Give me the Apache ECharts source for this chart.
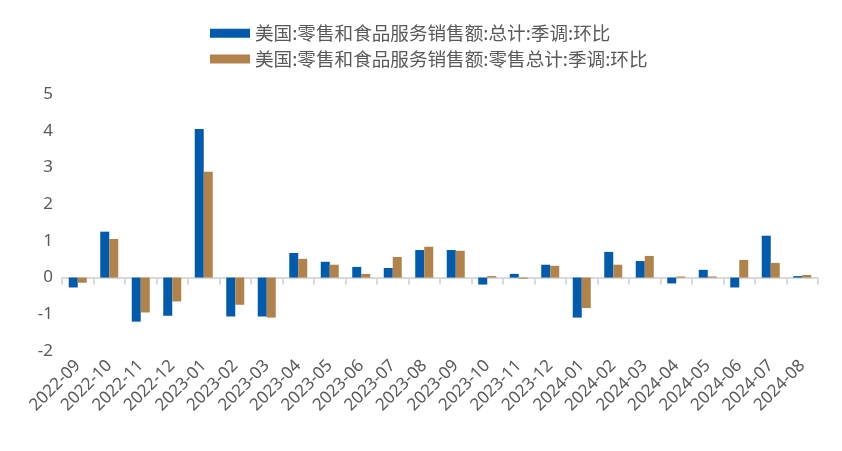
<!DOCTYPE html>
<html><head><meta charset="utf-8">
<script src="https://cdn.jsdelivr.net/npm/echarts@6/dist/echarts.min.js"></script>
<style>html,body{margin:0;padding:0;background:#fff}#c{width:842px;height:451px}</style>
</head><body><div id="c"></div>
<script>
const categories = ['2022-09','2022-10','2022-11','2022-12','2023-01','2023-02','2023-03','2023-04','2023-05','2023-06','2023-07','2023-08','2023-09','2023-10','2023-11','2023-12','2024-01','2024-02','2024-03','2024-04','2024-05','2024-06','2024-07','2024-08'];
const seriesTotal = [-0.27,1.25,-1.2,-1.04,4.05,-1.06,-1.06,0.67,0.43,0.29,0.26,0.75,0.75,-0.19,0.1,0.35,-1.09,0.7,0.45,-0.16,0.21,-0.27,1.14,0.04];
const seriesRetail = [-0.14,1.05,-0.95,-0.65,2.88,-0.74,-1.09,0.51,0.35,0.1,0.56,0.84,0.73,0.04,-0.03,0.32,-0.83,0.35,0.59,0.03,0.03,0.48,0.4,0.07];
const nameTotal = '美国:零售和食品服务销售额:总计:季调:环比';
const nameRetail = '美国:零售和食品服务销售额:零售总计:季调:环比';
const chart = echarts.init(document.getElementById('c'));
const font = '"Noto Sans CJK SC", "Noto Sans", sans-serif';
chart.setOption({
  animation:false,
  legend:{orient:'vertical',top:19,left:205,itemWidth:40,itemHeight:9,itemGap:7,icon:'rect',
    textStyle:{fontSize:18.6,color:'#595959',fontFamily:font},
    data:[nameTotal,nameRetail]},
  grid:{left:62,right:24,top:94,bottom:100},
  xAxis:{type:'category',data:categories,
    axisLine:{onZero:true,lineStyle:{color:'#d9d9d9',width:2}},
    axisTick:{show:true,length:7,lineStyle:{color:'#d9d9d9',width:2}},
    axisLabel:{rotate:45,fontSize:17,color:'#595959',fontFamily:'"Noto Sans", sans-serif',interval:0,margin:12}},
  yAxis:{type:'value',min:-2,max:5,interval:1,
    splitLine:{show:false},axisLine:{show:false},axisTick:{show:false},
    axisLabel:{fontSize:17,color:'#595959',fontFamily:'"Noto Sans", sans-serif',margin:9}},
  series:[
    {name:nameTotal,type:'bar',data:seriesTotal,barWidth:9,barGap:'0%',itemStyle:{color:'#005bac'}},
    {name:nameRetail,type:'bar',data:seriesRetail,barWidth:9,barGap:'0%',itemStyle:{color:'#b1834a'}}
  ]
});
</script></body></html>
